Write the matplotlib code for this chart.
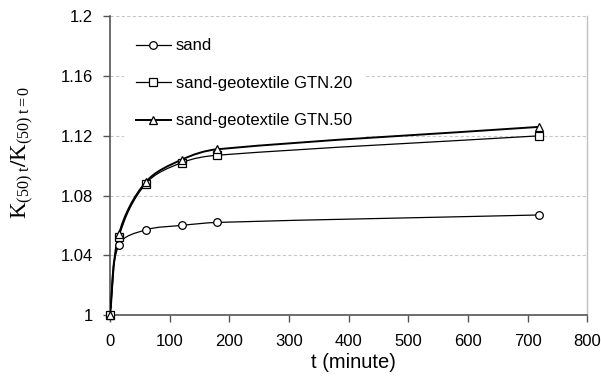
import matplotlib
matplotlib.use("Agg")
import numpy as np
import matplotlib.pyplot as plt
from matplotlib.path import Path
from matplotlib.patches import PathPatch
from matplotlib.lines import Line2D

plt.rcParams['font.family'] = 'Liberation Sans'
plt.rcParams['mathtext.fontset'] = 'custom'
plt.rcParams['mathtext.rm'] = 'Liberation Serif'
plt.rcParams['mathtext.it'] = 'Liberation Serif:italic'
plt.rcParams['mathtext.bf'] = 'Liberation Serif:bold'

t = [0, 15, 60, 120, 180, 720]
sand = [1.0, 1.047, 1.057, 1.060, 1.062, 1.067]
gtn20 = [1.0, 1.052, 1.088, 1.102, 1.107, 1.120]
gtn50 = [1.0, 1.054, 1.089, 1.104, 1.111, 1.126]

labels = ['sand', 'sand-geotextile GTN.20', 'sand-geotextile GTN.50']
markers = ['o', 's', '^']
widths = [0.9, 0.9, 1.4]


def smooth_path(ax, xs, ys):
    # smoothed line through the points: bezier segments built in screen space,
    # tangent along the neighbour chord, handle length a third of each segment
    pts = ax.transData.transform(np.column_stack([xs, ys]))
    n = len(pts)
    tang = []
    for i in range(n):
        a = pts[max(i - 1, 0)]
        b = pts[min(i + 1, n - 1)]
        d = b - a
        tang.append(d / np.hypot(*d))
    verts = [pts[0]]
    codes = [Path.MOVETO]
    for i in range(n - 1):
        seg = np.hypot(*(pts[i + 1] - pts[i])) / 3
        verts += [pts[i] + tang[i] * seg, pts[i + 1] - tang[i + 1] * seg, pts[i + 1]]
        codes += [Path.CURVE4] * 3
    verts = ax.transData.inverted().transform(np.array(verts))
    return Path(verts, codes)


fig = plt.figure(figsize=(6.01, 3.8), dpi=100)
ax = fig.add_axes([0.183, 0.171, 0.794, 0.786])
ax.set_xlim(0, 800)
ax.set_ylim(1, 1.2)

handles = []
for y, lab, m, lw in zip([sand, gtn20, gtn50], labels, markers, widths):
    ax.add_patch(PathPatch(smooth_path(ax, t, y), facecolor='none', edgecolor='black',
                           lw=lw, zorder=3))
    ax.plot(t, y, ls='none', marker=m, ms=5.5, mfc='white', mec='black', mew=0.9,
            zorder=4, clip_on=False)
    handles.append(Line2D([], [], color='black', lw=lw, marker=m, ms=5.5,
                          mfc='white', mec='black', mew=0.9))

ax.set_xticks(range(0, 801, 100))
ax.set_yticks([1, 1.04, 1.08, 1.12, 1.16, 1.2])
ax.set_yticklabels(['1', '1.04', '1.08', '1.12', '1.16', '1.2'])
ax.tick_params(direction='out', length=5, width=1, color='#555555', labelsize=12)
ax.tick_params(axis='x', pad=9)
ax.tick_params(axis='y', pad=7)
ax.yaxis.grid(True, color='#c8c8c8', ls=(0, (3, 2)), lw=0.8)
ax.set_axisbelow(True)

for s in ['left', 'bottom']:
    ax.spines[s].set_color('#555555')
    ax.spines[s].set_linewidth(1.2)
ax.spines['top'].set_visible(False)
ax.spines['right'].set_color('#c0c0c0')
ax.spines['right'].set_linewidth(1)

ax.set_xlabel('t (minute)', fontsize=14.5)
ax.xaxis.set_label_coords(0.51, -0.128)
ax.set_ylabel(r'$\mathrm{K_{(50)\ t}}\mathbf{/}\mathrm{K_{(50)\ t=0}}$', fontsize=16.5)
ax.yaxis.set_label_coords(-0.155, 0.545)

# white legend box also masks the grid lines behind it
leg = ax.legend(handles, labels, loc='upper left', bbox_to_anchor=(0.03, 0.965),
                fontsize=12, frameon=True, facecolor='white', edgecolor='none',
                framealpha=1, fancybox=False, handlelength=2.1, handletextpad=0.3,
                labelspacing=1.35, borderpad=0.7, borderaxespad=0)
leg.set_zorder(2)

fig.savefig('out.png', dpi=100)
